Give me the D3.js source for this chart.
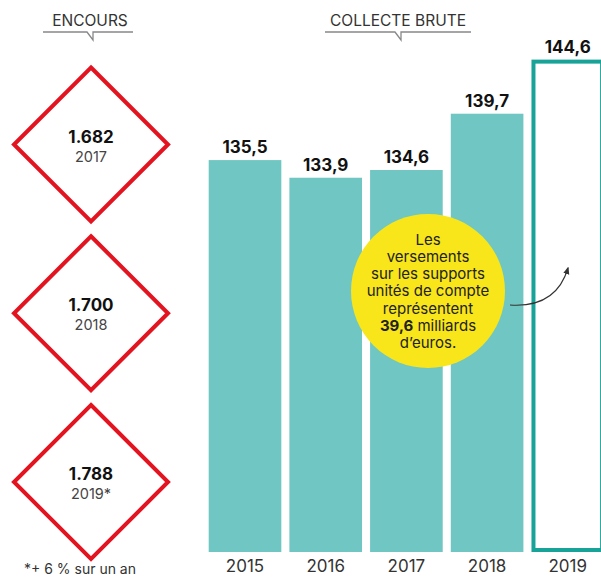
<!DOCTYPE html>
<html><head><meta charset="utf-8">
<script src="https://cdn.jsdelivr.net/npm/d3@7"></script>
<style>
html,body{margin:0;padding:0;background:#fff;}
svg{display:block;font-family:Inter,"Noto Sans",sans-serif;}
</style></head>
<body>
<svg id="chart" width="601" height="577"></svg>
<script>
// ---- data ----
const years = ["2015","2016","2017","2018","2019"];
const collecte = [135.5, 133.9, 134.6, 139.7, 144.6];
const collecteLabels = ["135,5","133,9","134,6","139,7","144,6"];
const encoursValues = ["1.682","1.700","1.788"];
const encoursYears = ["2017","2018","2019*"];
const bubbleLines = ["Les","versements","sur les supports","unités de compte","représentent","39,6 milliards","d’euros."];
const footnote = "*+ 6 % sur un an";

const svg = d3.select("#chart");

// ---- scales ----
const x = d3.scaleBand().domain(years).range([208.7, 604.1]).paddingInner(0.1).paddingOuter(0);
const y = d3.scaleLinear().domain([100, 150]).range([552, 0]);

const teal = "#70c6c2", tealDark = "#17a398", red = "#e3131f";

// headers
function header(cx, label, x0, x1){
  svg.append("text").attr("x", cx).attr("y", 26).attr("text-anchor","middle")
    .attr("font-size", 15.5).attr("fill","#333").text(label);
  const g = svg.append("g").attr("fill","none").attr("stroke","#888").attr("stroke-width",1.3);
  g.append("path").attr("d", `M${x0},32H${cx-3}L${cx+3},40V32H${x1}`);
}
header(90, "ENCOURS", 43, 133);
header(398, "COLLECTE BRUTE", 325, 471);

// bars
const data = years.map((yr,i)=>({yr, v:collecte[i], lab:collecteLabels[i], last:i===years.length-1}));
svg.selectAll("rect.bar").data(data.filter(d=>!d.last)).join("rect")
  .attr("class","bar")
  .attr("x", d=>x(d.yr)).attr("width", x.bandwidth())
  .attr("y", d=>y(d.v)).attr("height", d=>y(100)-y(d.v))
  .attr("fill", teal);
const sw = 4;
svg.selectAll("rect.out").data(data.filter(d=>d.last)).join("rect")
  .attr("class","out")
  .attr("x", d=>x(d.yr)+sw/2).attr("width", x.bandwidth()-sw)
  .attr("y", d=>y(d.v)+sw/2).attr("height", d=>y(100)-y(d.v)-sw)
  .attr("fill","#fff").attr("stroke", tealDark).attr("stroke-width", sw);

// value labels
svg.selectAll("text.val").data(data).join("text")
  .attr("class","val")
  .attr("x", d=>x(d.yr)+x.bandwidth()/2)
  .attr("y", d=>y(d.v)-7)
  .attr("text-anchor","middle").attr("font-size",17).attr("font-weight",700).attr("fill","#111")
  .text(d=>d.lab);

// year axis labels
svg.selectAll("text.yr").data(years).join("text")
  .attr("class","yr")
  .attr("x", d=>x(d)+x.bandwidth()/2).attr("y", 572)
  .attr("text-anchor","middle").attr("font-size",17).attr("fill","#333")
  .text(d=>d);

// diamonds
const dy = d3.scalePoint().domain(encoursYears).range([144.5, 482]);
const half = 77;
const dg = svg.selectAll("g.dia").data(encoursYears.map((yr,i)=>({yr, v:encoursValues[i]}))).join("g")
  .attr("class","dia").attr("transform", d=>`translate(91,${dy(d.yr)})`);
dg.append("path").attr("d", `M0,${-half}L${half},0L0,${half}L${-half},0Z`)
  .attr("fill","#fff").attr("stroke", red).attr("stroke-width",4);
dg.append("text").attr("y",-2).attr("text-anchor","middle").attr("font-size",17).attr("font-weight",700).attr("fill","#111").text(d=>d.v);
dg.append("text").attr("y",17).attr("text-anchor","middle").attr("font-size",14.5).attr("fill","#444").text(d=>d.yr);

svg.append("text").attr("x",80).attr("y",574).attr("text-anchor","middle").attr("font-size",14).attr("fill","#333").text(footnote);

// yellow bubble
const cx = 428, cy = 291;
svg.append("circle").attr("cx",cx).attr("cy",cy).attr("r",77).attr("fill","#f8e61a");
const bt = svg.append("text").attr("text-anchor","middle").attr("font-size",15).attr("fill","#222");
bubbleLines.forEach((l,i)=>{
  const t = bt.append("tspan").attr("x",cx).attr("y",244.5+i*17.3);
  if(l.startsWith("39,6")){
    t.append("tspan").attr("font-weight",700).text("39,6");
    t.append("tspan").text(l.slice(4));
  } else t.text(l);
});

// arrow
svg.append("defs").append("marker").attr("id","ah").attr("viewBox","0 0 10 10").attr("refX",8).attr("refY",5)
  .attr("markerWidth",7).attr("markerHeight",7).attr("orient","auto")
  .append("path").attr("d","M0,1L10,5L0,9Z").attr("fill","#333");
svg.append("path").attr("d","M510,305C540,307 560,295 568,268").attr("fill","none").attr("stroke","#333").attr("stroke-width",1.1)
  .attr("marker-end","url(#ah)");
</script>
</body></html>
